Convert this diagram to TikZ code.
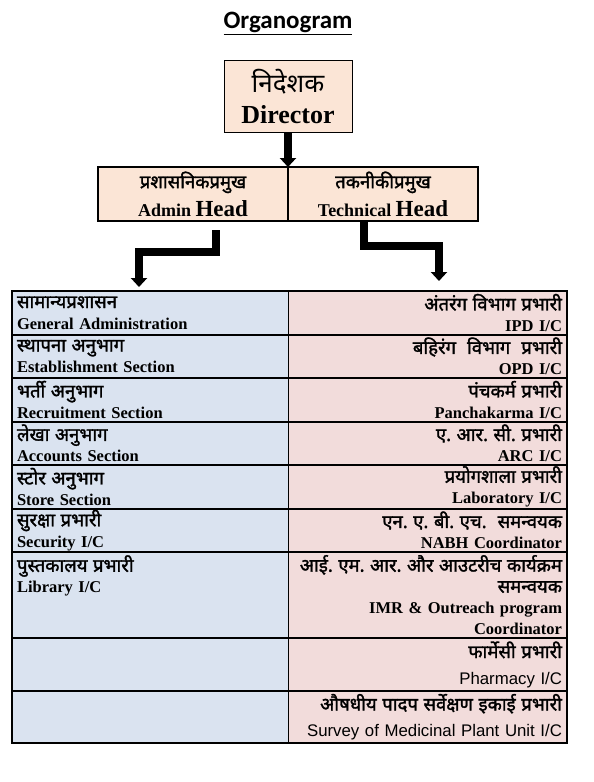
\documentclass[tikz,border=0pt]{standalone}
\usepackage{fontspec}
\usepackage{tikz}
\usetikzlibrary{arrows.meta,positioning,calc}
\newfontfamily\hindi[Script=Devanagari]{Noto Sans}
\newfontfamily\hindib[Script=Devanagari, FakeBold=1.6]{Noto Sans}
\newfontfamily\tnr{Liberation Serif}
\newfontfamily\arial{Liberation Sans}
\newfontfamily\calibri{Carlito}
\definecolor{peach}{HTML}{FBE5D6}
\definecolor{leftblue}{HTML}{DAE3F0}
\definecolor{rightpink}{HTML}{F2DCDB}
\newcommand{\dev}[1]{{\hindib\fontsize{18.5}{21}\selectfont #1}}
\frenchspacing

\begin{document}
\begin{tikzpicture}[
  x=1pt, y=-1pt,
  every node/.style={inner sep=0pt, outer sep=0pt},
  headbox/.style={
    draw=black, line width=2pt, fill=peach,
    minimum width=190pt, minimum height=54pt,
    align=center, font=\tnr\bfseries\fontsize{18}{28}\selectfont
  },
  cellL/.style={
    fill=leftblue, anchor=north west,
    minimum width=276pt, text width=266pt, inner xsep=5pt,
    align=left, font=\tnr\bfseries\fontsize{16.5}{21}\selectfont
  },
  cellR/.style={
    fill=rightpink,
    minimum width=279pt, text width=269pt, inner xsep=5pt,
    align=right, font=\tnr\bfseries\fontsize{16.5}{21}\selectfont
  },
  cellRa/.style={cellR, font=\arial\fontsize{16.8}{26}\selectfont},
  rowline/.style={line width=2pt},
  bigarrow/.style={-{Triangle[length=9pt,width=16pt]}, line width=7.5pt}
]
  \useasboundingbox (0,0) rectangle (594,782);

  \node[font=\calibri\bfseries\fontsize{25}{30}\selectfont] (title) at (288,23) {\underline{Organogram}};

  \node[draw=black, line width=1pt, fill=peach, minimum width=128pt, minimum height=72pt,
        align=center, font=\fontsize{24}{31}\selectfont] (director) at (288,96)
        {{\hindi\fontsize{26}{31}\selectfont निदेशक}\\{\tnr\bfseries\fontsize{26}{31}\selectfont Director}};

  \node[headbox, anchor=north west] (admin) at (98,167)
        {\dev{प्रशासनिकप्रमुख}\\Admin {\fontsize{23}{28}\selectfont Head}};
  \node[headbox, right=0pt of admin] (tech)
        {\dev{तकनीकीप्रमुख}\\Technical {\fontsize{23}{28}\selectfont Head}};

  \node[cellL, minimum height=43.5pt] (gen) at (12,291) {\dev{सामान्यप्रशासन}\\General Administration};
  \node[cellL, minimum height=43.5pt, below=0pt of gen] (estab) {\dev{स्थापना अनुभाग}\\Establishment Section};
  \node[cellL, minimum height=43.5pt, below=0pt of estab] (recruit) {\dev{भर्ती अनुभाग}\\Recruitment Section};
  \node[cellL, minimum height=43.5pt, below=0pt of recruit] (accounts) {\dev{लेखा अनुभाग}\\Accounts Section};
  \node[cellL, minimum height=43.5pt, below=0pt of accounts] (store) {\dev{स्टोर अनुभाग}\\Store Section};
  \node[cellL, minimum height=43.5pt, below=0pt of store] (security) {\dev{सुरक्षा प्रभारी}\\Security I/C};
  \node[cellL, minimum height=86pt, below=0pt of security] (library) {\dev{पुस्तकालय प्रभारी}\\Library I/C\\~\\~};
  \node[cellL, minimum height=53pt, below=0pt of library] (blankA) {};
  \node[cellL, minimum height=52pt, below=0pt of blankA] (blankB) {};

  \node[cellR, minimum height=43.5pt, right=0pt of gen] (ipd) {\dev{अंतरंग विभाग प्रभारी}\\IPD I/C};
  \node[cellR, minimum height=43.5pt, right=0pt of estab] (opd) {\dev{बहिरंग~ विभाग~ प्रभारी}\\OPD I/C};
  \node[cellR, minimum height=43.5pt, right=0pt of recruit] (panch) {\dev{पंचकर्म प्रभारी}\\Panchakarma I/C};
  \node[cellR, minimum height=43.5pt, right=0pt of accounts] (arc) {\dev{ए. आर. सी. प्रभारी}\\ARC I/C};
  \node[cellR, minimum height=43.5pt, right=0pt of store] (lab) {\dev{प्रयोगशाला प्रभारी}\\Laboratory I/C};
  \node[cellR, minimum height=43.5pt, right=0pt of security] (nabh) {\dev{एन. ए. बी. एच.~ समन्वयक}\\NABH Coordinator};
  \node[cellR, minimum height=86pt, right=0pt of library] (imr) {\dev{आई. एम. आर. और आउटरीच कार्यक्रम}\\\dev{समन्वयक}\\IMR \& Outreach program\\Coordinator};
  \node[cellRa, minimum height=53pt, right=0pt of blankA] (pharmacy) {\dev{फार्मेसी प्रभारी}\\Pharmacy I/C};
  \node[cellRa, minimum height=52pt, right=0pt of blankB] (survey) {\dev{औषधीय पादप सर्वेक्षण इकाई प्रभारी}\\Survey of Medicinal Plant Unit I/C};

  \draw[rowline] (gen.south west) -- (ipd.south east);
  \draw[rowline] (estab.south west) -- (opd.south east);
  \draw[rowline] (recruit.south west) -- (panch.south east);
  \draw[rowline] (accounts.south west) -- (arc.south east);
  \draw[rowline] (store.south west) -- (lab.south east);
  \draw[rowline] (security.south west) -- (nabh.south east);
  \draw[rowline] (library.south west) -- (imr.south east);
  \draw[rowline] (blankA.south west) -- (pharmacy.south east);
  \draw[line width=1pt] (gen.north east) -- (blankB.south east);
  \draw[line width=1.3pt] (gen.north west) rectangle (survey.south east);

  \coordinate (admintip) at (139,287);
  \coordinate (techtip) at (439,281);
  \draw[bigarrow] (director.south) -- (admin.north east);
  \draw[bigarrow, shorten <=9pt] ([xshift=23pt]admin.south) -- ++(0,31) -| (admintip);
  \draw[bigarrow] ([xshift=-19pt]tech.south) -- ++(0,25) -| (techtip);
\end{tikzpicture}
\end{document}
